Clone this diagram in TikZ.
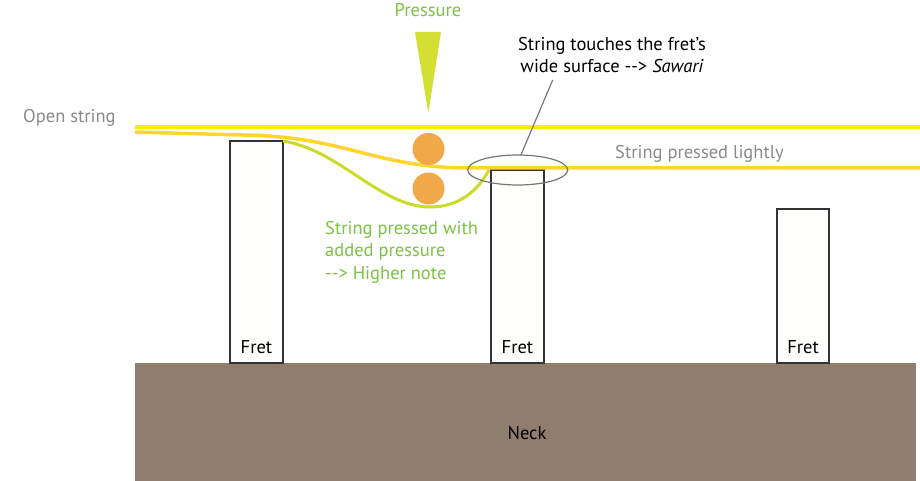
\documentclass[tikz,border=0pt]{standalone}
\usepackage{fontspec}
\setmainfont{PT Sans}
\usetikzlibrary{shapes.geometric}
\definecolor{openY}{HTML}{FFED00}
\definecolor{lightY}{HTML}{FFD52E}
\definecolor{greenC}{HTML}{CADB2A}
\definecolor{triC}{HTML}{D4DF33}
\definecolor{ballC}{HTML}{F0A848}
\definecolor{greenT}{HTML}{7DC242}
\definecolor{grayT}{HTML}{8A8A8A}
\definecolor{neckC}{HTML}{8F7D6E}
\definecolor{fretF}{HTML}{FEFEFC}
\definecolor{fretB}{HTML}{333333}
\definecolor{ellC}{HTML}{777777}
\newcommand{\darr}{{-}{-}>}
\tikzset{
  txt/.style={inner sep=0pt, font=\fontsize{18.5}{22.5}\selectfont},
  fretbox/.style={draw=fretB, fill=fretF, line width=1.3pt},
  ball/.style={circle, fill=ballC, minimum size=32pt, inner sep=0pt},
}
\begin{document}
\begin{tikzpicture}[x=1pt,y=-1pt]
\useasboundingbox (0,0) rectangle (920,481);
% neck
\fill[neckC] (135,363) rectangle (916,481);
\node[txt] (neck) at (527,433) {Neck};
% frets
\draw[fretbox] (230,141) rectangle (283,363);
\draw[fretbox] (491,170) rectangle (544,363);
\draw[fretbox] (777,209) rectangle (829,363);
\node[txt] (f1) at (256.5,347) {Fret};
\node[txt] (f2) at (517.5,347) {Fret};
\node[txt] (f3) at (803,347) {Fret};
% open string
\draw[openY, line width=4pt] (135,127) -- (920,127);
% green pressed string
\draw[greenC, line width=3pt] (283,141) .. controls (340,150) and (380,207) .. (430,207) .. controls (460,207) and (478,190) .. (489,170);
% lightly pressed string
\draw[lightY, line width=3.5pt] (135,132) -- (260,135.5) .. controls (350,140) and (380,168) .. (470,168) -- (920,168);
% balls
\node[ball] (b1) at (428.5,149) {};
\node[ball] (b2) at (428.5,188.5) {};
% pressure triangle
\fill[triC] (415,32) -- (441,32) -- (428.3,113) -- cycle;
\node[txt, text=greenT] (pr) at (428,10) {Pressure};
% ellipse and leader
\node[draw=ellC, line width=1.2pt, ellipse, minimum width=100pt, minimum height=30pt, inner sep=0pt] (ell) at (517.7,170) {};
\coordinate (lead) at (552.7,80);
\draw[ellC, line width=1.2pt] (520.7,155.5) -- (lead);
\node[txt, align=center] (saw) at (612,55) {String touches the fret's\\wide surface \darr{} \textit{Sawari}};
% labels
\node[txt, text=grayT, anchor=west] (light) at (615,154) {String pressed lightly};
\node[txt, text=grayT, anchor=west] (open) at (23,118) {Open string};
\node[txt, text=greenT, anchor=north west, align=left] (gp) at (325,221) {String pressed with\\added pressure\\\darr{} Higher note};
\end{tikzpicture}
\end{document}
